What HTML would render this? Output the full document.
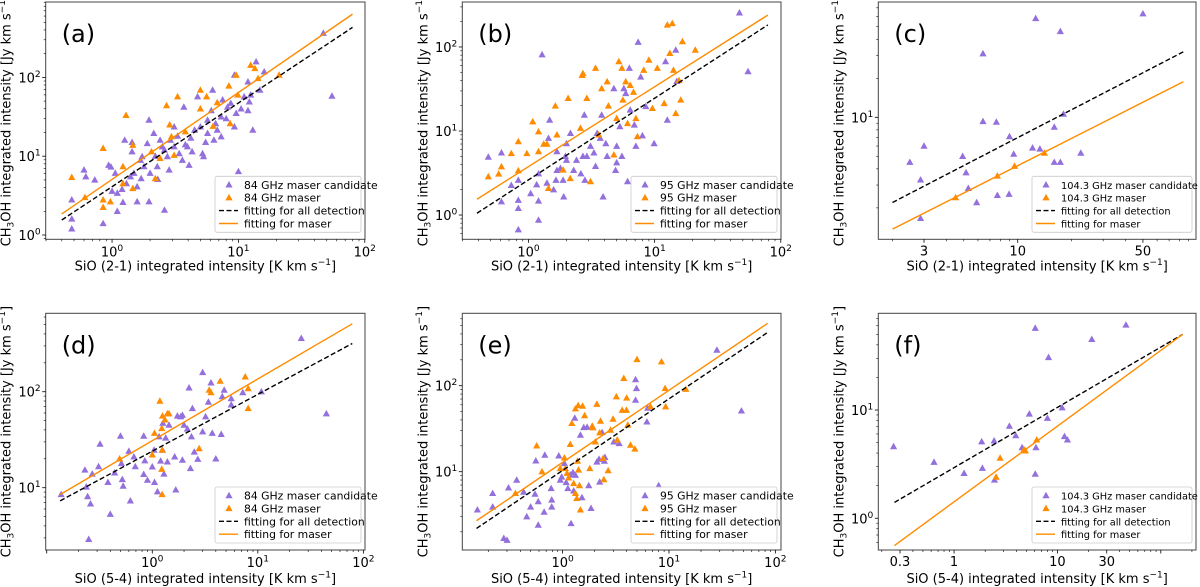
<!DOCTYPE html>
<html><head><meta charset="utf-8">
<style>
html,body{margin:0;padding:0;background:#fff;}
svg{display:block;font-family:"DejaVu Sans","Liberation Sans",sans-serif;}
</style></head>
<body>
<svg id="fig" width="1200" height="587" viewBox="0 0 1200 587" xmlns="http://www.w3.org/2000/svg"></svg>
<script>
// ---------- DATA ----------
const aCand=[[0.48,2.8],[0.48,1.6],[0.48,1.2],[0.6,6.7],[0.62,5.5],[0.73,5.0],[0.94,7.7],[0.85,1.4],[1.06,6.1],[1.1,3.4],[1.1,2.0],[1.22,2.6],[1.26,16],[1.44,15],[1.44,11.4],[1.49,6.1],[1.58,4.1],[1.58,2.65],[1.73,9.9],[1.9,14.5],[1.96,28.8],[1.96,2.65],[2.14,19.5],[2.4,16],[2.5,13.2],[2.6,2.07],[2.74,9.9],[2.83,6.7],[3.1,13.2],[3.4,10.8],[3.6,8.9],[3.7,42],[3.8,14],[4.07,7.7],[4.5,21.5],[4.75,57],[5.0,23.6],[5.2,10.8],[5.3,9.9],[5.7,19.5],[6.1,38],[6.25,69],[6.4,16],[6.8,21.5],[7.3,31.6],[7.5,52],[8.2,42],[8.7,47],[9.3,107],[9.6,35],[10,6.4],[11.1,57],[11.9,88],[12.2,49],[13,21.5],[13.8,158],[14.8,69],[16,118],[47,364],[55,58],[1.68,8.9],[1.79,7.4],[2.0,6.1],[2.28,7.4],[2.9,16],[3.1,23.6],[3.95,13.2],[4.3,11.4],[5.7,28.8],[7.3,17.7],[9.3,23.6],[11.9,38],[1.3,4.5],[1.4,5.5],[1.2,3.8],[2.2,10],[2.6,12],[3.3,18],[4.2,17],[5.5,15],[6.6,26],[8.0,30],[10.5,40],[12.5,60],[1.0,3.6],[0.98,7.3],[1.7,5.2],[2.3,5.1]];
const aMaser=[[0.48,5.4],[0.61,3.0],[0.85,12.6],[0.85,2.8],[0.85,2.25],[0.97,2.65],[1.29,33],[1.22,7.4],[1.22,4.5],[1.46,13.8],[1.46,3.9],[2.05,11.4],[2.2,5.2],[2.7,44],[2.86,25],[2.95,17.7],[2.4,9.4],[3.1,10.3],[3.3,57],[3.8,20.5],[5.0,69],[5.0,40],[5.6,57],[6.3,24],[6.8,48],[8.4,78],[8.6,26],[9.6,107],[9.9,60],[12.5,143],[13.5,130],[14.3,97],[21,107]];
const aFitAll=[[0.4,1.55],[80,431]];
const aFitMaser=[[0.4,1.85],[80,635]];

const bCand=[[0.48,4.9],[0.61,5.5],[0.61,1.44],[0.73,2.26],[0.83,2.6],[0.83,1.5],[0.83,1.2],[0.83,0.67],[1.04,1.8],[1.16,2.3],[1.2,3.1],[1.2,1.47],[1.2,0.87],[1.28,81],[1.4,2.4],[1.44,8.2],[1.47,13.5],[1.58,2.0],[1.65,2.6],[1.68,5.7],[1.79,3.6],[1.88,2.6],[1.9,1.65],[1.96,5],[2.0,7.1],[2.15,9.4],[2.28,3.4],[2.4,4.5],[2.6,3.1],[2.77,15.5],[2.8,2.6],[2.9,5],[3.1,6.6],[3.4,3.8],[3.5,9.4],[3.7,8.2],[3.8,15.5],[3.9,1.65],[4.1,7.1],[4.75,32],[4.9,3.4],[5.0,6.6],[5.5,5],[5.7,32],[5.9,28],[6.1,2.5],[6.3,56],[6.4,17.8],[6.9,11.8],[7.1,6.6],[7.4,114],[7.75,44],[8.0,8.8],[8.5,19.6],[9.9,7.1],[12.2,67],[12.6,13.5],[14.7,92],[15,39],[47,255],[55,51],[1.68,3.4],[2.0,4.5],[2.7,5],[3.3,5.5],[4.2,5],[5.0,4.2],[5.3,11.3]];
const bMaser=[[0.48,2.86],[0.58,3.08],[0.61,3.76],[0.73,5.4],[0.83,7.5],[0.83,3.37],[0.97,5.4],[1.08,12.9],[1.2,9.8],[1.2,5.7],[1.32,7.0],[1.4,7.0],[1.44,2.08],[1.63,19.9],[1.68,9.0],[1.88,3.44],[2.06,24.5],[2.14,2.73],[2.58,10.8],[2.66,46],[2.7,48.5],[2.9,24.5],[3.1,2.5],[3.4,56],[3.6,9.0],[3.8,32],[4.2,38.7],[4.3,19.9],[4.75,5.2],[5.0,14.1],[5.2,67],[5.5,56],[5.6,23.4],[5.9,38.7],[6.1,12.3],[6.4,35],[6.8,29],[7.1,14.1],[7.3,8.6],[8.2,53],[9.0,70],[9.6,18.6],[10.5,56],[11.9,21.3],[12.6,183],[13.8,191],[14.7,16.2],[13.2,84],[15.6,40],[16.1,23.4],[14.1,53],[16.6,116],[21,92]];
const bFitAll=[[0.39,1.05],[79,183]];
const bFitMaser=[[0.39,1.54],[79,240]];

const cCand=[[2.5,4.5],[2.87,3.29],[2.87,1.66],[3.0,6.0],[4.93,5.0],[5.15,3.74],[5.3,2.83],[5.9,2.2],[6.4,31],[6.4,9.3],[7.6,9.2],[7.7,2.5],[8.95,2.55],[9.0,7.1],[9.5,5.2],[12.1,5.8],[12.6,58],[13.3,5.7],[16,4.5],[16,8.4],[17.3,46],[17.3,4.5],[18,10.6],[22.5,5.3],[50,63]];
const cMaser=[[4.5,2.4],[7.7,3.53],[9.6,4.2],[14.1,5.3]];
const cFitAll=[[2.0,2.2],[84,32]];
const cFitMaser=[[2.0,1.37],[84,18.8]];

const dCand=[[0.137,8.5],[0.23,15.3],[0.237,10.2],[0.244,8.1],[0.25,2.9],[0.26,6.8],[0.27,13.9],[0.31,16.6],[0.32,28.5],[0.38,11.4],[0.4,5.3],[0.44,14.3],[0.5,34.5],[0.51,17.9],[0.52,12.2],[0.53,10.4],[0.6,24],[0.62,7.3],[0.67,21],[0.69,16.6],[0.83,13.8],[0.83,34.5],[0.85,19.1],[0.9,12.0],[1.0,16.5],[1.04,24.7],[1.05,11.4],[1.12,9.1],[1.16,34],[1.2,19],[1.25,24.7],[1.26,47],[1.29,13.9],[1.34,33],[1.44,45],[1.39,18.6],[1.63,21],[1.67,9.5],[1.73,56],[1.86,55],[1.93,19.4],[2.0,45],[2.15,41],[1.93,57],[2.23,110],[2.3,15.9],[2.35,34],[2.4,67],[2.5,23.6],[2.7,19.8],[3.0,38.3],[3.0,159],[3.2,55],[3.4,78],[3.6,124],[3.7,37],[4.0,20],[4.5,36],[4.6,89],[4.8,104],[5.6,73],[5.6,85],[7.2,98],[10.8,100],[25.8,360],[44.6,59]];
const dMaser=[[0.49,20],[1.0,22],[1.05,37],[1.18,80],[1.23,41.5],[1.24,24.7],[1.23,15.6],[1.24,8.5],[1.25,56],[1.32,51],[1.39,59],[1.44,59],[2.78,25.6],[3.46,104],[3.6,98],[4.4,129],[7.6,143],[8.1,108],[8.1,67]];
const dFitAll=[[0.134,7.3],[78.5,318]];
const dFitMaser=[[0.134,8.5],[78.5,510]];

const eCand=[[0.158,3.6],[0.22,5.6],[0.22,3.9],[0.28,1.68],[0.3,1.6],[0.31,6.5],[0.37,8.0],[0.43,5.8],[0.46,3.0],[0.5,3.9],[0.55,5.5],[0.56,13.4],[0.59,2.4],[0.59,4.5],[0.67,3.4],[0.68,15.6],[0.78,6.4],[0.79,4.7],[0.79,3.9],[0.92,15.3],[0.95,8.0],[0.98,8.7],[1.04,12.5],[1.08,7.5],[1.12,6.4],[1.18,9.2],[1.2,2.5],[1.25,9.8],[1.27,6.0],[1.3,42],[1.32,9.1],[1.47,26.7],[1.52,5.0],[1.58,32.7],[1.7,33],[1.76,6.9],[1.85,3.75],[2.1,13],[2.2,14],[2.23,7.6],[2.35,28.6],[2.5,14.7],[2.47,13.3],[3.03,22.3],[3.4,21.3],[4.85,118],[4.85,68],[4.95,93],[6.2,38],[6.3,55],[8.0,6.9],[28.2,260],[48,51]];
const eMaser=[[0.36,5.6],[0.57,20],[0.64,10],[0.95,10.9],[1.04,14.5],[1.06,10.9],[1.1,9.6],[1.14,8.5],[1.18,20.8],[1.22,36.5],[1.27,7.3],[1.32,5.6],[1.36,4.9],[1.32,54],[1.4,59],[1.38,13.3],[1.41,10.5],[1.44,6.9],[1.47,3.6],[1.54,58],[1.61,45],[1.8,10.9],[1.9,34],[1.93,32.5],[2.03,22.3],[2.1,61],[2.23,28.4],[2.27,38.8],[2.4,14.3],[2.44,8.1],[2.68,10.3],[2.82,30.5],[2.98,41],[3.26,23.4],[3.2,74.5],[3.63,52],[3.76,122],[3.98,52],[4.0,72],[4.1,35],[4.35,20.4],[4.78,18.4],[5.0,202],[6.7,57],[8.5,190],[9.2,93],[9.3,57],[14.4,91]];
const eFitAll=[[0.155,2.19],[84.7,417]];
const eFitMaser=[[0.155,2.69],[84.7,531]];

const fCand=[[0.26,4.6],[0.64,3.3],[1.25,2.6],[1.85,5.1],[1.88,2.9],[2.44,5.2],[2.46,2.26],[3.43,7.1],[3.95,5.8],[4.55,4.5],[5.35,9.2],[6.1,57],[6.1,2.56],[6.2,4.5],[8.0,8.4],[8.2,30.6],[11.1,10.5],[11.7,5.7],[12.5,5.3],[21.5,45],[46,61]];
const fMaser=[[2.55,2.4],[2.79,3.6],[4.75,4.3],[4.9,4.2],[6.3,5.3]];
const fFitAll=[[0.265,1.4],[163,50]];
const fFitMaser=[[0.265,0.56],[163,50]];

const xTickA=[1,10,100], xTickLabA=[["10","0"],["10","1"],["10","2"]];
const xTickC=[3,10,50], xTickLabC=["3","10","50"];
const xTickF=[0.3,1,10,30], xTickLabF=["0.3","1","10","30"];
const yTickA=[1,10,100], yTickLabA=[["10","0"],["10","1"],["10","2"]];
const yTickC=[10], yTickLabC=[["10","1"]];
const yTickD=[10,100], yTickLabD=[["10","1"],["10","2"]];
const yTickF=[1,10], yTickLabF=[["10","0"],["10","1"]];
const freqs=["84","95","104.3","84","95","104.3"];
const letters=["(a)","(b)","(c)","(d)","(e)","(f)"];
const sioLines=["2-1","2-1","2-1","5-4","5-4","5-4"];

// ---------- LAYOUT ----------
const NS="http://www.w3.org/2000/svg";
const svg=document.getElementById('fig');
const PURPLE="#9370DB", ORANGE="#FF8C00";
const panels=[
 {L:45.7,R:365,T:2,B:239.3,xd:[0.2985,100.4],yd:[0.882,905],cand:aCand,mas:aMaser,fa:aFitAll,fm:aFitMaser,xt:xTickA,xl:xTickLabA,yt:yTickA,yl:yTickLabA,legW:146,legF:10.8},
 {L:462.3,R:781,T:2,B:239.3,xd:[0.2985,100.4],yd:[0.514,343],cand:bCand,mas:bMaser,fa:bFitAll,fm:bFitMaser,xt:xTickA,xl:xTickLabA,yt:yTickA,yl:yTickLabA,legW:146,legF:10.8},
 {L:878.3,R:1196,T:2,B:239.3,xd:[1.667,98.9],yd:[1.144,77.6],cand:cCand,mas:cMaser,fa:cFitAll,fm:cFitMaser,xt:xTickC,xl:xTickLabC,yt:yTickC,yl:yTickLabC,legW:160,legF:9.8},
 {L:45.7,R:365,T:313.3,B:550,xd:[0.0978,103.6],yd:[2.244,656],cand:dCand,mas:dMaser,fa:dFitAll,fm:dFitMaser,xt:xTickA,xl:xTickLabA,yt:yTickD,yl:yTickLabD,legW:146,legF:10.8},
 {L:462.3,R:781,T:313.3,B:550,xd:[0.114,113],yd:[1.229,695],cand:eCand,mas:eMaser,fa:eFitAll,fm:eFitMaser,xt:xTickA,xl:xTickLabA,yt:yTickD,yl:yTickLabD,legW:146,legF:10.8},
 {L:878.3,R:1196,T:313.3,B:550,xd:[0.185,219],yd:[0.509,78.2],cand:fCand,mas:fMaser,fa:fFitAll,fm:fFitMaser,xt:xTickF,xl:xTickLabF,yt:yTickF,yl:yTickLabF,legW:160,legF:9.8}
];
const lg=Math.log10;
function el(tag,attrs,parent){const e=document.createElementNS(NS,tag);for(const k in attrs)e.setAttribute(k,attrs[k]);(parent||svg).appendChild(e);return e;}
function tri(g,cx,cy,col){const s=3.6;return el('polygon',{points:`${cx-s},${cy+s*0.75} ${cx+s},${cy+s*0.75} ${cx},${cy-s*1.05}`,fill:col},g);}
function supText(parent,x,y,base,exp,anchor,size){
  const t=el('text',{x:x,y:y,'text-anchor':anchor,'font-size':size,fill:'#000'},parent);
  t.appendChild(document.createTextNode(base));
  if(exp!==undefined){const s=el('tspan',{dy:-5.5,'font-size':size*0.7},t);s.textContent=exp;}
  return t;
}

panels.forEach((p,i)=>{
  const g=el('g',{});
  
  
  const sx=v=>p.L+(lg(v)-lg(p.xd[0]))/(lg(p.xd[1])-lg(p.xd[0]))*(p.R-p.L);
  const sy=v=>p.B-(lg(v)-lg(p.yd[0]))/(lg(p.yd[1])-lg(p.yd[0]))*(p.B-p.T);
  const clipId='clip'+i;
  const cp=el('clipPath',{id:clipId},g);el('rect',{x:p.L,y:p.T,width:p.R-p.L,height:p.B-p.T},cp);
  const plot=el('g',{'clip-path':`url(#${clipId})`},g);
  
  
  p.cand.forEach(d=>{const m=tri(plot,sx(d[0]),sy(d[1]),PURPLE);
    
    });
  p.mas.forEach(d=>{const m=tri(plot,sx(d[0]),sy(d[1]),ORANGE);
    
    });
  const la=el('line',{x1:sx(p.fa[0][0]),y1:sy(p.fa[0][1]),x2:sx(p.fa[1][0]),y2:sy(p.fa[1][1]),stroke:'#000','stroke-width':1.4,'stroke-dasharray':'5,2.5'},plot);
  
  
  const lm=el('line',{x1:sx(p.fm[0][0]),y1:sy(p.fm[0][1]),x2:sx(p.fm[1][0]),y2:sy(p.fm[1][1]),stroke:ORANGE,'stroke-width':1.4},plot);
  
  
  const fr=el('rect',{x:p.L,y:p.T,width:p.R-p.L,height:p.B-p.T,fill:'none',stroke:'#444','stroke-width':1},g);
  
  
  for(let e=-2;e<=3;e++){for(let m=1;m<=9;m++){const v=m*Math.pow(10,e);
    if(v>p.xd[0]&&v<p.xd[1]){const X=sx(v);const maj=(m===1)||p.xt.some(t=>Math.abs(t-v)<1e-9);
      el('line',{x1:X,y1:p.B,x2:X,y2:p.B+(maj?3.5:2),stroke:'#000','stroke-width':maj?0.8:0.6},g);}
    if(v>p.yd[0]&&v<p.yd[1]){const Y=sy(v);const maj=(m===1);
      el('line',{x1:p.L,y1:Y,x2:p.L-(maj?3.5:2),y2:Y,stroke:'#000','stroke-width':maj?0.8:0.6},g);}
  }}
  p.xt.forEach((t,k)=>{const lab=p.xl[k];const X=sx(t);
    const tx=Array.isArray(lab)?supText(g,X,p.B+17,lab[0],lab[1],'middle',13):supText(g,X,p.B+16,lab,undefined,'middle',13);
    
    });
  p.yt.forEach((t,k)=>{const lab=p.yl[k];const Y=sy(t);
    const tx=supText(g,p.L-5,Y+5,lab[0],lab[1],'end',13);
    
    });
  const xt=el('text',{x:(p.L+p.R)/2,y:p.B+(i<3?31:33),'text-anchor':'middle','font-size':13},g);
  xt.appendChild(document.createTextNode(`SiO (${sioLines[i]}) integrated intensity [K km s`));
  const xs=el('tspan',{dy:-5.5,'font-size':9},xt);xs.textContent='−1';
  const xe=el('tspan',{dy:5.5},xt);xe.textContent=']';
  
  
  const cx=p.L-35, cy=(p.T+p.B)/2;
  const yt=el('text',{x:cx,y:cy,'text-anchor':'middle','font-size':13,transform:`rotate(-90 ${cx} ${cy})`},g);
  yt.appendChild(document.createTextNode('CH'));
  const y1=el('tspan',{dy:3,'font-size':9},yt);y1.textContent='3';
  const y2=el('tspan',{dy:-3},yt);y2.textContent='OH integrated intensity [Jy km s';
  const y3=el('tspan',{dy:-5.5,'font-size':9},yt);y3.textContent='−1';
  const y4=el('tspan',{dy:5.5},yt);y4.textContent=']';
  
  
  const pl=el('text',{x:p.L+16,y:p.T+40,'font-size':24},g);pl.textContent=letters[i];
  
  
  const lw=p.legW, lh=56, lx=p.R-4-lw, ly=p.B-7-lh;
  const leg=el('g',{},g);
  
  
  el('rect',{x:lx,y:ly,width:lw,height:lh,rx:2,fill:'#fff','fill-opacity':0.85,stroke:'#ccc','stroke-width':0.8},leg);
  const rows=[`${freqs[i]} GHz maser candidate`,`${freqs[i]} GHz maser`,'fitting for all detection','fitting for maser'];
  rows.forEach((r,k)=>{const ry=ly+8.5+k*12.9;
    if(k===0)tri(leg,lx+14,ry,PURPLE);
    if(k===1)tri(leg,lx+14,ry,ORANGE);
    if(k===2)el('line',{x1:lx+4,y1:ry,x2:lx+23,y2:ry,stroke:'#000','stroke-width':1.4,'stroke-dasharray':'5,2.5'},leg);
    if(k===3)el('line',{x1:lx+4,y1:ry,x2:lx+23,y2:ry,stroke:ORANGE,'stroke-width':1.4},leg);
    const t=el('text',{x:lx+29,y:ry+4,'font-size':p.legF},leg);t.textContent=r;
    
    
  });
});
</script>
</body></html>
